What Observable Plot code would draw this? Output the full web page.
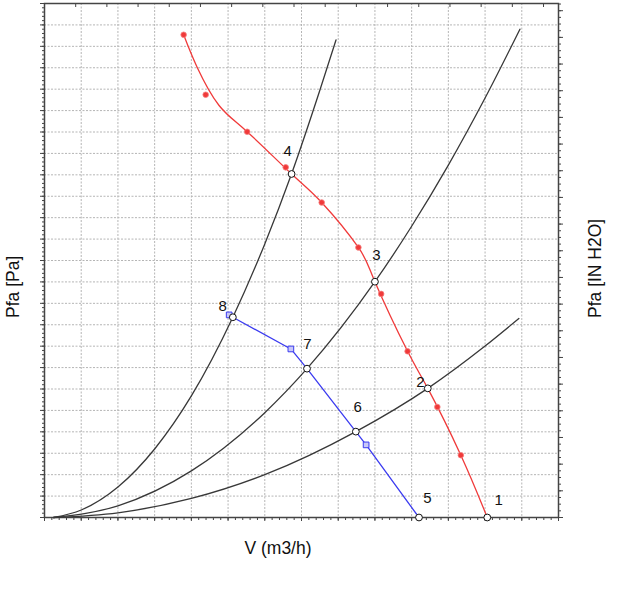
<!DOCTYPE html>
<html><head><meta charset="utf-8">
<script src="https://cdn.jsdelivr.net/npm/d3@7"></script>
<script src="https://cdn.jsdelivr.net/npm/@observablehq/plot@0.6"></script>
<style>body{margin:0;background:#fff;} svg{display:block;}</style>
</head><body><div id="chart"></div>
<script>
// Airflow V in m3/h, pressure Pfa in Pa
// System curves
const sysA = [[25,0],[100,70],[200,285],[300,640],[400,1135],[513,1870],[600,2555],[673,3210],[750,3990],[794,4460]];
const sysB = [[25,0],[200,109],[400,435],[600,979],[715,1390],[900,2202],[1000,2720],[1100,3291],[1200,3917],[1295,4560]];
const sysC = [[25,0],[200,44],[400,178],[600,400],[848,802],[1044,1206],[1200,1601],[1292,1858]];
// Red fan curve: measured dots and the fitted curve
const redDots = [[379,4508],[439,3948],[552,3602],[657,3270],[755,2942],[855,2522],[917,2088],[989,1552],[1070,1032],[1134,582]];
const redLine = [[379,4508],[416,4203],[475,3850],[552,3602],[673,3208],[755,2942],[855,2522],[900,2202],[989,1552],[1044,1206],[1134,582],[1206,0]];
// Blue fan curve
const blueSquares = [[503,1892],[671,1574],[876,678]];
const blueLine = [[513,1870],[671,1574],[715,1390],[848,802],[876,678],[1020,0]];
// Operating points 1..8
const opIds = ["1","2","3","4","5","6","7","8"];
const opX = [1206,1044,900,673,1020,848,715,513];
const opY = [0,1206,2202,3208,0,802,1390,1870];
// Label anchor positions for point numbers
const labX = [1237,1024,904,662,1043,853,716,485];
const labY = [159,1260,2445,3425,177,1027,1615,1969];

const ops = opIds.map((id,i)=>({id, x:opX[i], y:opY[i]}));
const labs = opIds.map((id,i)=>({id, x:labX[i], y:labY[i]}));

const CFM = 1.699;      // m3/h per CFM
const INH2O = 249.09;   // Pa per inch H2O

const font = "'Liberation Sans', Arial, Helvetica, sans-serif";
const axisColor = "#444";

const chart = Plot.plot({
  width: 624, height: 597,
  marginLeft: 44, marginRight: 66, marginTop: 3, marginBottom: 80,
  style: {fontFamily: font, background: "#fff"},
  x: {domain: [0, 1400], axis: null},
  y: {domain: [0, 4800], axis: null},
  marks: [
    Plot.gridX({ticks: d3.range(0, 1401, 100), stroke: "#b5b5b5", strokeOpacity: 1, strokeDasharray: "2,1.5"}),
    Plot.gridY({ticks: d3.range(0, 4801, 200), stroke: "#b5b5b5", strokeOpacity: 1, strokeDasharray: "2,1.5"}),
    // bottom ticks (m3/h)
    Plot.axisX({anchor: "bottom", ticks: d3.range(0, 1401, 20), tickSize: 3, tickFormat: () => "", label: null, stroke: axisColor}),
    Plot.axisX({anchor: "bottom", ticks: d3.range(0, 1401, 100), tickSize: 4, tickFormat: () => "", label: null, stroke: axisColor}),
    // top ticks (CFM), inward
    Plot.axisX({anchor: "top", ticks: d3.range(0, 1400 / CFM, 50).map(c => c * CFM), tickSize: -3, tickFormat: () => "", label: null, stroke: axisColor}),
    // left ticks (Pa)
    Plot.axisY({anchor: "left", ticks: d3.range(0, 4801, 40), tickSize: 2, tickFormat: () => "", label: null, stroke: axisColor}),
    Plot.axisY({anchor: "left", ticks: d3.range(0, 4801, 200), tickSize: 4, tickFormat: () => "", label: null, stroke: axisColor}),
    // right ticks (IN H2O)
    Plot.axisY({anchor: "right", ticks: d3.range(0, 4800 / INH2O, 0.25).map(v => v * INH2O), tickSize: 2, tickFormat: () => "", label: null, stroke: axisColor}),
    Plot.axisY({anchor: "right", ticks: d3.range(0, 4800 / INH2O, 1).map(v => v * INH2O), tickSize: 4, tickFormat: () => "", label: null, stroke: axisColor}),
    Plot.frame({stroke: axisColor, strokeWidth: 1.5}),
    // system curves
    Plot.line(sysA, {x: d => d[0], y: d => d[1], curve: "monotone-x", stroke: "#383838", strokeWidth: 1.3}),
    Plot.line(sysB, {x: d => d[0], y: d => d[1], curve: "monotone-x", stroke: "#383838", strokeWidth: 1.3}),
    Plot.line(sysC, {x: d => d[0], y: d => d[1], curve: "monotone-x", stroke: "#383838", strokeWidth: 1.3}),
    // fan curves
    Plot.line(blueLine, {x: d => d[0], y: d => d[1], stroke: "#3b3bf0", strokeWidth: 1.3}),
    Plot.line(redLine, {x: d => d[0], y: d => d[1], curve: "natural", stroke: "#f03a3a", strokeWidth: 1.3}),
    Plot.dot(redDots, {x: d => d[0], y: d => d[1], r: 2.8, fill: "#f03a3a", stroke: "#f58080", strokeWidth: 0.8}),
    Plot.dot(blueSquares, {x: d => d[0], y: d => d[1], symbol: "square", r: 3.2, fill: "#c8c8f8", stroke: "#3b3bf0", strokeWidth: 1}),
    Plot.dot(ops, {x: "x", y: "y", r: 3.4, fill: "#fff", stroke: "#111", strokeWidth: 1}),
    Plot.text(labs, {x: "x", y: "y", text: "id", fontSize: 15, fill: "#111", fontFamily: font})
  ]
});

const svg = d3.select(chart);
svg.append("text").attr("transform", "translate(19,318) rotate(-90)")
  .attr("text-anchor", "start").attr("font-size", 17.5).attr("font-family", font).attr("fill", "#111")
  .text("Pfa [Pa]");
svg.append("text").attr("transform", "translate(601,318) rotate(-90)")
  .attr("text-anchor", "start").attr("font-size", 17.5).attr("font-family", font).attr("fill", "#111")
  .text("Pfa [IN H2O]");
svg.append("text").attr("x", 278).attr("y", 554)
  .attr("text-anchor", "middle").attr("font-size", 17.5).attr("font-family", font).attr("fill", "#111")
  .text("V (m3/h)");

document.getElementById("chart").appendChild(chart);
</script>
</body></html>
